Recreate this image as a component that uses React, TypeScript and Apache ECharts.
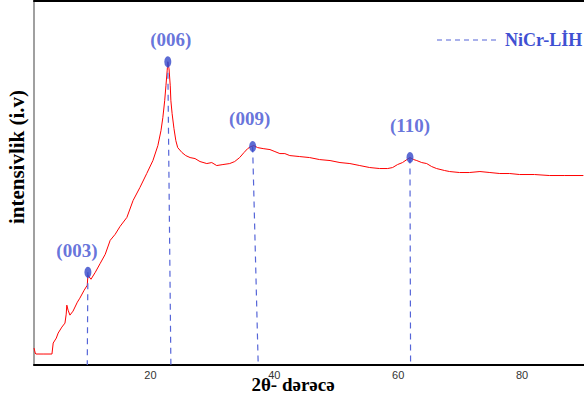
import React, { useEffect, useRef } from "react";
import * as echarts from "echarts";

const twoTheta = [
  1.2, 1.4, 1.5, 2.8, 4.1, 4.3, 4.8, 5.1, 5.7, 6.2, 6.4, 6.5, 6.7, 7.0, 7.5, 8.2, 8.6, 9.3, 9.8, 9.9,
  10.4, 11.1, 11.9, 12.7, 13.5, 14.3, 15.1, 16.2, 17.2, 18.3, 19.4, 20.4, 21.2, 21.7, 22.0, 22.3, 22.5,
  22.7, 22.8, 23.0, 23.2, 23.3, 23.5, 23.8, 24.1, 24.4, 25.1, 25.7, 26.4, 27.2, 28.0, 29.1, 29.9, 30.7,
  31.7, 32.8, 33.6, 34.4, 35.1, 35.7, 36.2, 36.7, 37.3, 38.2, 39.3, 40.1, 40.9, 41.7, 42.5, 44.1, 45.7,
  47.3, 49.0, 50.6, 52.2, 53.8, 55.4, 57.0, 58.3, 59.1, 59.9, 60.7, 61.4, 61.9, 62.5, 63.0, 63.8, 64.6,
  65.4, 66.2, 67.5, 68.3, 69.9, 71.5, 73.2, 74.8, 76.4, 78.0, 79.6, 82.0, 84.4, 86.9, 89.9,
];
const intensity = [
  17, 12, 11, 11, 11, 22, 27, 32, 38, 42, 51, 60, 55, 50, 54, 63, 67, 75, 80, 90,
  86, 93, 102, 111, 125, 131, 139, 148, 165, 178, 192, 205, 220, 235, 248, 265, 280,
  295, 304, 297, 280, 265, 252, 237, 225, 218, 213, 210, 208, 207, 204, 202, 203, 200,
  201, 202, 204, 208, 213, 217, 219, 220, 218, 217, 216, 214, 212, 212, 210, 209, 208,
  206, 205, 203, 202, 200, 198, 197, 197, 198, 201, 203, 206, 208, 206, 205, 203, 202,
  199, 197, 195, 194, 193, 193, 194, 193, 192, 192, 191, 191, 190, 190, 190,
];

// Peak annotations (Miller indices)
const peakLabels = ["(003)", "(006)", "(009)", "(110)"];
const peakX = [9.9, 22.8, 36.5, 61.9];
const peakY = [93, 304, 219, 208];
const peakBaseX = [9.8, 23.3, 37.4, 62.0];
const peakLabelOffsets = [[-11, -2], [3, -2], [-3, -8], [0, -12]];

const xTicks = [20, 40, 60, 80];
const legendName = "NiCr-LİH";

const BLUE = "#3f50d2";
const DASH_BLUE = "#5565d8";

export default function App() {
  const ref = useRef<HTMLDivElement>(null);
  useEffect(() => {
    document.body.style.margin = "0";
    const chart = echarts.init(ref.current!, null, { renderer: "svg" });
    const lineData = twoTheta.map((x, i) => [x, intensity[i]]);
    const dropSeries = peakX.map((x, i) => ({
      type: "line" as const,
      data: [[x, peakY[i]], [peakBaseX[i], 0]],
      symbol: "none",
      silent: true,
      lineStyle: { color: DASH_BLUE, width: 1.2, type: [6, 5] as any },
      z: 3,
    }));
    chart.setOption({
      animation: false,
      grid: { left: 34, right: 0, top: 1, bottom: 38 },
      xAxis: [
        {
          type: "value",
          min: 1.2,
          max: 90,
          splitLine: { show: false },
          axisLine: { show: true, onZero: false, lineStyle: { color: "#000", width: 2 } },
          axisTick: { show: false },
          axisLabel: {
            customValues: xTicks,
            color: "#333",
            fontSize: 11,
            fontFamily: "Liberation Sans, Arial, sans-serif",
            margin: 4,
          },
        },
        {
          type: "value",
          position: "top",
          min: 1.2,
          max: 90,
          splitLine: { show: false },
          axisLine: { show: true, onZero: false, lineStyle: { color: "#000", width: 2 } },
          axisTick: { show: false },
          axisLabel: { show: false },
        },
      ],
      yAxis: {
        type: "value",
        min: 0,
        max: 365,
        splitLine: { show: false },
        axisLine: { show: true, onZero: false, lineStyle: { color: "#808080", width: 1.5 } },
        axisTick: { show: false },
        axisLabel: { show: false },
      },
      series: [
        {
          type: "line",
          data: lineData,
          symbol: "none",
          lineStyle: { color: "#ff0000", width: 1 },
          z: 2,
        },
        ...dropSeries,
        {
          type: "scatter",
          data: peakX.map((x, i) => ({
            value: [x, peakY[i]],
            name: peakLabels[i],
            label: { offset: peakLabelOffsets[i] },
          })),
          symbol: "circle",
          symbolSize: [7, 11],
          itemStyle: { color: "#3447c9" },
          z: 5,
          label: {
            show: true,
            position: "top",
            formatter: (p: any) => p.name,
            color: BLUE,
            fontSize: 19,
            fontWeight: "bold",
            fontFamily: "Liberation Serif, Times New Roman, serif",
          },
        },
      ],
      graphic: [
        {
          type: "line",
          shape: { x1: 437, y1: 40, x2: 500, y2: 40 },
          style: { stroke: DASH_BLUE, lineWidth: 1.2, lineDash: [5, 4] },
        },
        {
          type: "text",
          x: 505,
          y: 40,
          style: {
            text: legendName,
            fill: BLUE,
            font: "bold 18px 'Liberation Serif', 'Times New Roman', serif",
            verticalAlign: "middle",
            align: "left",
          },
        },
        {
          type: "text",
          x: 17,
          y: 157,
          rotation: Math.PI / 2,
          style: {
            text: "intensivlik (i.v)",
            fill: "#000",
            font: "bold 21px 'Liberation Serif', 'Times New Roman', serif",
            align: "center",
            verticalAlign: "middle",
          },
        },
        {
          type: "text",
          x: 293,
          y: 384,
          style: {
            text: "2θ- dərəcə",
            fill: "#000",
            font: "bold 19px 'Liberation Serif', 'Times New Roman', serif",
            align: "center",
            verticalAlign: "middle",
          },
        },
      ],
    });
    return () => chart.dispose();
  }, []);
  return <div ref={ref} style={{ width: 584, height: 403, position: "absolute", left: 0, top: 0 }} />;
}
